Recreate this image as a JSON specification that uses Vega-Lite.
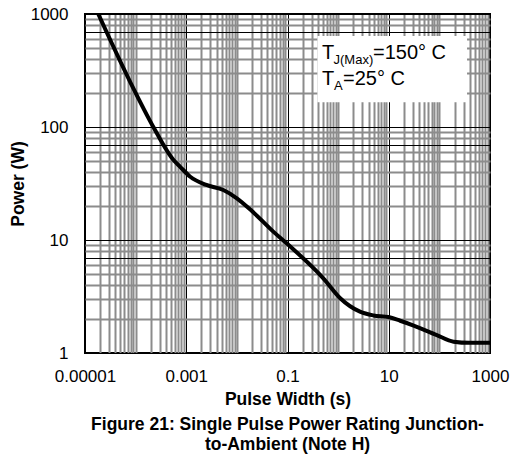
{
  "$schema": "https://vega.github.io/schema/vega-lite/v6.json",
  "autosize": {"type": "none"},
  "padding": {"left": 85, "top": 14, "right": 22, "bottom": 101},
  "width": 405,
  "height": 339,
  "config": {
    "font": "Liberation Sans",
    "view": {"stroke": "black", "strokeWidth": 2},
    "axisX": {
      "titleFontSize": 17.5,
      "titleFontWeight": "bold",
      "titleColor": "black",
      "titlePadding": 6,
      "values": [0.00001,0.00002,0.00003,0.00004,0.00005,0.00006,0.00007,0.00008,0.00009,
                 0.0001,0.0002,0.0003,0.0004,0.0005,0.0006,0.0007,0.0008,0.0009,
                 0.001,0.002,0.003,0.004,0.005,0.006,0.007,0.008,0.009,
                 0.01,0.02,0.03,0.04,0.05,0.06,0.07,0.08,0.09,
                 0.1,0.2,0.3,0.4,0.5,0.6,0.7,0.8,0.9,
                 1,2,3,4,5,6,7,8,9,
                 10,20,30,40,50,60,70,80,90,
                 100,200,300,400,500,600,700,800,900,1000],
      "labelExpr": "indexof([0.00001,0.001,0.1,10,1000], datum.value) >= 0 ? format(datum.value, '~f') : ''",
      "labelOverlap": false,
      "labelFontSize": 17,
      "labelColor": "black",
      "labelPadding": 15,
      "labelFlush": false,
      "ticks": false,
      "domain": false,
      "grid": true,
      "gridColor": {"condition": {"test": "indexof([0.00001,0.001,0.1,10,1000], datum.value) >= 0", "value": "black"}, "value": "#8c8c8c"},
      "gridWidth": {"condition": {"test": "indexof([0.00001,0.001,0.1,10,1000], datum.value) >= 0", "value": 1}, "value": 2},
      "gridOpacity": 1
    },
    "axisY": {
      "titleFontSize": 17.5,
      "titleFontWeight": "bold",
      "titleColor": "black",
      "titlePadding": 3,
      "values": [1,2,3,4,5,6,7,8,9,10,20,30,40,50,60,70,80,90,100,200,300,400,500,600,700,800,900,1000],
      "labelExpr": "indexof([1,10,100,1000], datum.value) >= 0 ? format(datum.value, '~f') : ''",
      "labelOverlap": false,
      "labelFontSize": 17,
      "labelColor": "black",
      "labelPadding": 17,
      "labelFlush": false,
      "ticks": false,
      "domain": false,
      "grid": true,
      "gridColor": {"condition": {"test": "indexof([1,10,100,1000,7,70,700], datum.value) >= 0", "value": "black"}, "value": "#8c8c8c"},
      "gridWidth": {"condition": {"test": "indexof([1,10,100,1000,7,70,700], datum.value) >= 0", "value": 1}, "value": 2},
      "gridOpacity": 1
    }
  },
  "title": {
    "text": ["Figure 21: Single Pulse Power Rating Junction-", "to-Ambient (Note H)"],
    "orient": "bottom",
    "anchor": "middle",
    "frame": "group",
    "fontSize": 17.5,
    "fontWeight": "bold",
    "color": "black",
    "lineHeight": 20,
    "offset": 8
  },
  "datasets": {
    "curve": [
      {"t": 0.0000183, "p": 1000},
      {"t": 0.00008, "p": 245},
      {"t": 0.000224, "p": 100},
      {"t": 0.00056, "p": 51},
      {"t": 0.00075, "p": 44.6},
      {"t": 0.0012, "p": 36.3},
      {"t": 0.0025, "p": 30.7},
      {"t": 0.0054, "p": 27.7},
      {"t": 0.01, "p": 23.4},
      {"t": 0.02, "p": 18},
      {"t": 0.053, "p": 11.8},
      {"t": 0.1, "p": 9.2},
      {"t": 0.51, "p": 4.58},
      {"t": 1.1, "p": 3.05},
      {"t": 2.7, "p": 2.32},
      {"t": 5, "p": 2.15},
      {"t": 9.9, "p": 2.08},
      {"t": 16.8, "p": 1.93},
      {"t": 31, "p": 1.75},
      {"t": 89, "p": 1.44},
      {"t": 190, "p": 1.26},
      {"t": 400, "p": 1.23},
      {"t": 1000, "p": 1.23}
    ]
  },
  "encoding": {
    "x": {"type": "quantitative", "title": "Pulse Width (s)", "scale": {"type": "log", "domain": [0.00001, 1000], "nice": false}},
    "y": {"type": "quantitative", "title": "Power (W)", "scale": {"type": "log", "domain": [1, 1000], "nice": false}}
  },
  "layer": [
    {
      "data": {"name": "curve"},
      "mark": {"type": "line", "color": "black", "strokeWidth": 4, "interpolate": "monotone", "clip": true},
      "encoding": {
        "x": {"field": "t"},
        "y": {"field": "p"}
      }
    },
    {
      "data": {"values": [{"x0": 0.39, "x1": 352, "y0": 640, "y1": 166}]},
      "mark": {"type": "rect", "fill": "white", "stroke": "white", "strokeWidth": 0},
      "encoding": {
        "x": {"field": "x0"},
        "x2": {"field": "x1"},
        "y": {"field": "y0"},
        "y2": {"field": "y1"}
      }
    },
    {
      "data": {"values": [{"x": 0.48, "y": 400, "s": "T"}, {"x": 0.48, "y": 236, "s": "T"}]},
      "mark": {"type": "text", "align": "left", "baseline": "alphabetic", "fontSize": 20, "color": "black"},
      "encoding": {
        "x": {"field": "x"},
        "y": {"field": "y"},
        "text": {"field": "s"}
      }
    },
    {
      "data": {"values": [{"x": 0.48, "y": 400, "s": "J(Max)"}]},
      "mark": {"type": "text", "align": "left", "baseline": "alphabetic", "fontSize": 13, "color": "black", "dx": 11.5, "dy": 5},
      "encoding": {
        "x": {"field": "x"},
        "y": {"field": "y"},
        "text": {"field": "s"}
      }
    },
    {
      "data": {"values": [{"x": 0.48, "y": 236, "s": "A"}]},
      "mark": {"type": "text", "align": "left", "baseline": "alphabetic", "fontSize": 13, "color": "black", "dx": 12, "dy": 5},
      "encoding": {
        "x": {"field": "x"},
        "y": {"field": "y"},
        "text": {"field": "s"}
      }
    },
    {
      "data": {"values": [{"x": 0.48, "y": 400, "s": "=150° C"}]},
      "mark": {"type": "text", "align": "left", "baseline": "alphabetic", "fontSize": 20, "color": "black", "dx": 51},
      "encoding": {
        "x": {"field": "x"},
        "y": {"field": "y"},
        "text": {"field": "s"}
      }
    },
    {
      "data": {"values": [{"x": 0.48, "y": 236, "s": "=25° C"}]},
      "mark": {"type": "text", "align": "left", "baseline": "alphabetic", "fontSize": 20, "color": "black", "dx": 21}
,
      "encoding": {
        "x": {"field": "x"},
        "y": {"field": "y"},
        "text": {"field": "s"}
      }
    }
  ]
}
